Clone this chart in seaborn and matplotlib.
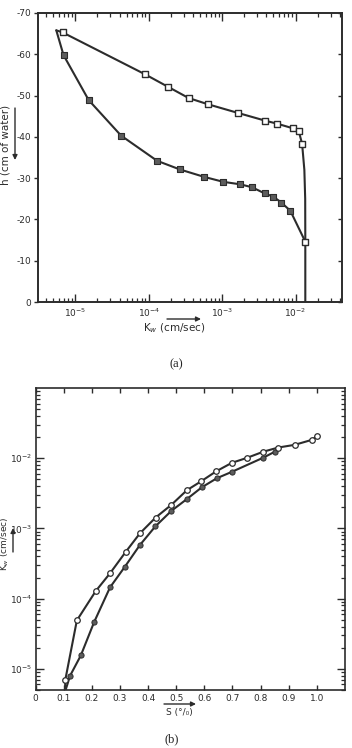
import numpy as np
import pandas as pd
import matplotlib
matplotlib.use("Agg")
import matplotlib.pyplot as plt
import seaborn as sns
from matplotlib.ticker import LogLocator, NullFormatter, FixedLocator

# ---------------- data (a): h vs Kw ----------------
a_open_K = [6.7e-6, 8.8e-5, 1.84e-4, 3.5e-4, 6.4e-4, 1.64e-3, 3.9e-3, 5.6e-3,
            9.1e-3, 1.11e-2, 1.23e-2, 1.36e-2]
a_open_h = [-65.3, -55.2, -52.1, -49.4, -47.9, -45.8, -43.9, -43.2,
            -42.1, -41.3, -38.3, -14.6]
a_fill_K = [6.9e-6, 1.52e-5, 4.2e-5, 1.3e-4, 2.66e-4, 5.7e-4, 1.04e-3, 1.77e-3,
            2.55e-3, 3.8e-3, 5.0e-3, 6.4e-3, 8.5e-3]
a_fill_h = [-59.8, -48.9, -40.3, -34.2, -32.1, -30.3, -29.1, -28.5,
            -27.8, -26.3, -25.5, -24.1, -22.1]
# curve paths
a_upper_K = [5.5e-6, 6.7e-6, 8.8e-5, 1.84e-4, 3.5e-4, 6.4e-4, 1.64e-3, 3.9e-3,
             5.6e-3, 9.1e-3, 1.11e-2, 1.23e-2, 1.32e-2, 1.355e-2, 1.36e-2, 1.36e-2]
a_upper_h = [-65.8, -65.3, -55.2, -52.1, -49.4, -47.9, -45.8, -43.9,
             -43.2, -42.1, -41.3, -38.3, -32.0, -25.0, -14.6, 0.0]
a_lower_K = [5.5e-6, 6.9e-6, 1.52e-5, 4.2e-5, 1.3e-4, 2.66e-4, 5.7e-4, 1.04e-3,
             1.77e-3, 2.55e-3, 3.8e-3, 5.0e-3, 6.4e-3, 8.5e-3, 1.36e-2]
a_lower_h = [-65.8, -59.8, -48.9, -40.3, -34.2, -32.1, -30.3, -29.1,
             -28.5, -27.8, -26.3, -25.5, -24.1, -22.1, -14.6]
a_yticks = [0, -10, -20, -30, -40, -50, -60, -70]
a_yticklabels = ["0", "-10", "-20", "-30", "-40", "-50", "-60", "-70"]
a_xticks = [1e-5, 1e-4, 1e-3, 1e-2]
a_xticklabels = ["$10^{-5}$", "$10^{-4}$", "$10^{-3}$", "$10^{-2}$"]

# ---------------- data (b): Kw vs S ----------------
b_open_S = [0.106, 0.147, 0.214, 0.265, 0.32, 0.371, 0.427, 0.483, 0.538, 0.589,
            0.642, 0.698, 0.751, 0.81, 0.863, 0.921, 0.981, 1.0]
b_open_K = [7.0e-6, 4.9e-5, 1.28e-4, 2.3e-4, 4.6e-4, 8.5e-4, 1.43e-3, 2.17e-3, 3.5e-3, 4.7e-3,
            6.5e-3, 8.6e-3, 1.01e-2, 1.24e-2, 1.42e-2, 1.55e-2, 1.82e-2, 2.06e-2]
b_fill_S = [0.123, 0.161, 0.208, 0.265, 0.318, 0.371, 0.426, 0.483, 0.538, 0.591,
            0.645, 0.698, 0.81, 0.851]
b_fill_K = [8.0e-6, 1.55e-5, 4.6e-5, 1.45e-4, 2.86e-4, 5.8e-4, 1.07e-3, 1.78e-3, 2.62e-3, 3.85e-3,
            5.2e-3, 6.4e-3, 1.02e-2, 1.24e-2]
b_upper_S = [0.105] + b_open_S
b_upper_K = [5.0e-6] + b_open_K
b_lower_S = [0.107] + b_fill_S + [0.862]
b_lower_K = [5.0e-6] + b_fill_K + [1.40e-2]
b_xticks = [0, 0.1, 0.2, 0.3, 0.4, 0.5, 0.6, 0.7, 0.8, 0.9, 1.0]
b_xticklabels = ["0", "0.1", "0.2", "0.3", "0.4", "0.5", "0.6", "0.7", "0.8", "0.9", "1.0"]
b_yticks = [1e-5, 1e-4, 1e-3, 1e-2]
b_yticklabels = ["$10^{-5}$", "$10^{-4}$", "$10^{-3}$", "$10^{-2}$"]

# ---------------- styling ----------------
sns.set_style("ticks")
plt.rcParams["font.family"] = ["DejaVu Sans"]
plt.rcParams["mathtext.fontset"] = "dejavusans"
INK = "#2c2c2c"
FILL = "#5c5c5c"
W, H = 352, 748

fig = plt.figure(figsize=(W / 100, H / 100), dpi=100)
fig.patch.set_facecolor("white")


def fx(px):
    return px / W


def fy(py):
    return 1 - py / H


# ---------------- panel (a) ----------------
ax1 = fig.add_axes([fx(37.5), fy(302), fx(342) - fx(37.5), fy(13) - fy(302)])
ax1.set_xscale("log")
ax1.set_xlim(3.05e-6, 4.3e-2)
ax1.set_ylim(0, -70)

sns.lineplot(data=pd.DataFrame({"K": a_upper_K, "h": a_upper_h}), x="K", y="h",
             sort=False, estimator=None, ax=ax1, color=INK, lw=1.5, zorder=2)
sns.lineplot(data=pd.DataFrame({"K": a_lower_K, "h": a_lower_h}), x="K", y="h",
             sort=False, estimator=None, ax=ax1, color=INK, lw=1.5, zorder=2)
sns.scatterplot(data=pd.DataFrame({"K": a_fill_K, "h": a_fill_h}), x="K", y="h",
                ax=ax1, marker="s", s=24, color=FILL, edgecolor=INK, linewidth=0.8, zorder=3)
sns.scatterplot(data=pd.DataFrame({"K": a_open_K, "h": a_open_h}), x="K", y="h",
                ax=ax1, marker="s", s=24, color="white", edgecolor=INK, linewidth=1.0, zorder=4)

ax1.set_xlabel("")
ax1.set_ylabel("")
ax1.xaxis.set_major_locator(FixedLocator(a_xticks))
ax1.set_xticklabels(a_xticklabels)
ax1.xaxis.set_minor_locator(LogLocator(base=10, subs=np.arange(2, 10), numticks=20))
ax1.xaxis.set_minor_formatter(NullFormatter())
ax1.set_yticks(a_yticks)
ax1.set_yticklabels(a_yticklabels)
ax1.tick_params(axis="x", which="major", direction="in", length=6, width=1.0,
                top=True, bottom=True, labelsize=6.5, colors=INK, pad=3)
ax1.tick_params(axis="x", which="minor", direction="in", length=3, width=0.9,
                top=True, bottom=True, colors=INK)
ax1.tick_params(axis="y", which="major", direction="out", length=3, width=1.0,
                left=True, right=False, labelsize=6.5, colors=INK, pad=1.5)
ax1r = ax1.twinx()
ax1r.set_ylim(0, -70)
ax1r.set_yticks(a_yticks)
ax1r.tick_params(axis="y", direction="in", length=3, width=1.0, labelright=False, colors=INK)
for a in (ax1, ax1r):
    for sp in a.spines.values():
        sp.set_visible(True)
        sp.set_linewidth(1.2)
        sp.set_color(INK)

# ---------------- panel (b) ----------------
ax2 = fig.add_axes([fx(35.5), fy(690), fx(345) - fx(35.5), fy(388) - fy(690)])
ax2.set_yscale("log")
ax2.set_xlim(0, 1.1)
ax2.set_ylim(5e-6, 1e-1)

sns.lineplot(data=pd.DataFrame({"S": b_upper_S, "K": b_upper_K}), x="S", y="K",
             sort=False, estimator=None, ax=ax2, color=INK, lw=1.5, zorder=2)
sns.lineplot(data=pd.DataFrame({"S": b_lower_S, "K": b_lower_K}), x="S", y="K",
             sort=False, estimator=None, ax=ax2, color=INK, lw=1.5, zorder=2)
sns.scatterplot(data=pd.DataFrame({"S": b_fill_S, "K": b_fill_K}), x="S", y="K",
                ax=ax2, marker="o", s=14, color=FILL, edgecolor=INK, linewidth=0.7, zorder=3)
sns.scatterplot(data=pd.DataFrame({"S": b_open_S, "K": b_open_K}), x="S", y="K",
                ax=ax2, marker="o", s=16, color="white", edgecolor=INK, linewidth=0.9, zorder=4)

ax2.set_xlabel("")
ax2.set_ylabel("")
ax2.set_xticks(b_xticks)
ax2.set_xticklabels(b_xticklabels)
ax2.yaxis.set_major_locator(FixedLocator(b_yticks))
ax2.set_yticklabels(b_yticklabels)
ax2.yaxis.set_minor_locator(LogLocator(base=10, subs=np.arange(2, 10), numticks=20))
ax2.yaxis.set_minor_formatter(NullFormatter())
ax2.tick_params(axis="x", which="major", direction="in", length=3.5, width=1.0,
                top=True, bottom=True, labelsize=6.5, colors=INK, pad=3)
ax2.tick_params(axis="y", which="major", direction="in", length=6, width=1.0,
                left=True, right=True, labelsize=6.5, colors=INK, pad=2)
ax2.tick_params(axis="y", which="minor", direction="in", length=3, width=0.9,
                left=True, right=True, colors=INK)
for sp in ax2.spines.values():
    sp.set_visible(True)
    sp.set_linewidth(1.2)
    sp.set_color(INK)

# ---------------- labels, arrows, captions ----------------
arrow_kw = dict(arrowstyle="-|>", lw=1.0, color=INK, mutation_scale=7, shrinkA=0, shrinkB=0)

fig.text(fx(6), fy(145), "h (cm of water)", rotation=90, ha="center", va="center",
         fontsize=7.5, color=INK)
fig.add_artist(matplotlib.patches.FancyArrowPatch((fx(15), fy(108)), (fx(15), fy(160)),
                                                  transform=fig.transFigure, **arrow_kw))
fig.text(fx(174), fy(328), "K$_w$ (cm/sec)", ha="center", va="center", fontsize=7.5, color=INK)
fig.add_artist(matplotlib.patches.FancyArrowPatch((fx(167), fy(319)), (fx(201), fy(319)),
                                                  transform=fig.transFigure, **arrow_kw))
fig.text(fx(176), fy(364), "(a)", ha="center", va="center", fontsize=9,
         family=["Liberation Serif", "DejaVu Serif"], color="#222222")

fig.text(fx(5), fy(544), "K$_w$ (cm/sec)", rotation=90, ha="center", va="center",
         fontsize=6.5, color=INK)
fig.add_artist(matplotlib.patches.FancyArrowPatch((fx(13), fy(552)), (fx(13), fy(528)),
                                                  transform=fig.transFigure, **arrow_kw))
fig.text(fx(179), fy(713), "S (°/₀)", ha="center", va="center", fontsize=6.5, color=INK)
fig.add_artist(matplotlib.patches.FancyArrowPatch((fx(164), fy(704)), (fx(196), fy(704)),
                                                  transform=fig.transFigure, **arrow_kw))
fig.text(fx(172), fy(739), "(b)", ha="center", va="center", fontsize=9,
         family=["Liberation Serif", "DejaVu Serif"], color="#222222")

fig.savefig("out.png", dpi=100)
